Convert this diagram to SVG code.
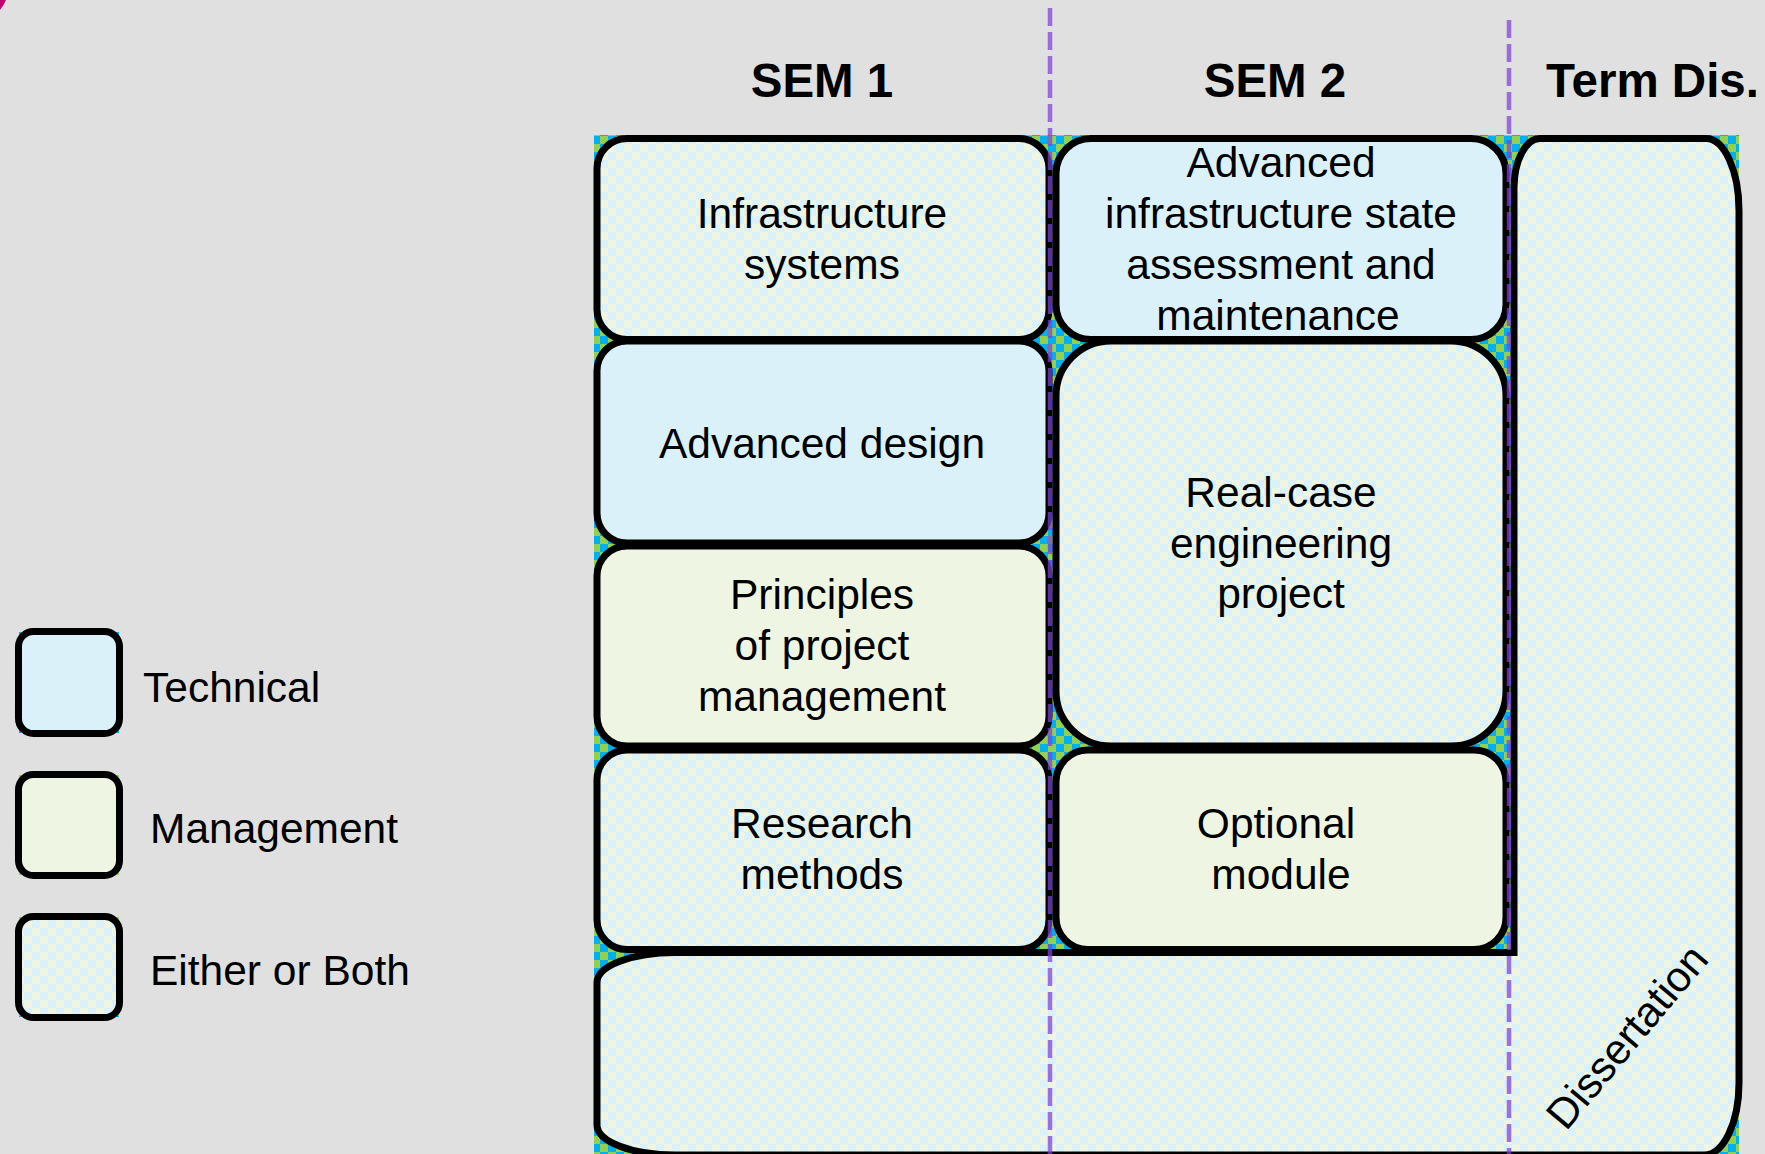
<svg xmlns="http://www.w3.org/2000/svg" width="1765" height="1154" viewBox="0 0 1765 1154">
<defs>
<pattern id="lightChk" patternUnits="userSpaceOnUse" width="16" height="16">
<rect width="16" height="16" fill="#daf1fa"/>
<rect width="8" height="8" fill="#eef6e3"/>
<rect x="8" y="8" width="8" height="8" fill="#eef6e3"/>
</pattern>
<pattern id="brightChk" patternUnits="userSpaceOnUse" width="16" height="16">
<rect width="16" height="16" fill="#00b0f0"/>
<rect width="8" height="8" fill="#92d050"/>
<rect x="8" y="8" width="8" height="8" fill="#92d050"/>
</pattern>
<style>
.box{stroke:#000;stroke-width:7}
.tech{fill:#daf1fa}
.mgmt{fill:#eef6e3}
.both{fill:url(#lightChk)}
.lbl{font-family:"Liberation Sans",Arial,sans-serif;font-size:42.5px;fill:#000;text-anchor:middle}
.leg{font-family:"Liberation Sans",Arial,sans-serif;font-size:42.5px;fill:#000}
.hdr{font-family:"Liberation Sans",Arial,sans-serif;font-size:47.5px;font-weight:bold;fill:#000}
.div{stroke:#7f3fd9;stroke-opacity:0.72;stroke-width:4.5;stroke-dasharray:18 6;fill:none}
</style>
</defs>
<rect width="1765" height="1154" fill="#dfe0df"/>
<path d="M0,0 L6,0 Q4,5 0,10 Z" fill="#c0006a"/>

<g id="headers">
<text class="hdr" x="822" y="97" text-anchor="middle">SEM 1</text>
<text class="hdr" x="1275" y="97" text-anchor="middle">SEM 2</text>
<text class="hdr" x="1546" y="97">Term Dis.</text>
</g>

<rect x="594" y="135" width="1145" height="1019" fill="url(#brightChk)"/>

<g id="dissertation">
<path class="box both" d="M675,952.5 L1514,952.5 L1514,188 A26,50 0 0 1 1540,138.5 L1706,138.5 A33,72 0 0 1 1739,210.5 L1739,1083 A35,72 0 0 1 1704,1155 L675,1155 A78,30 0 0 1 597,1125 L597,982.5 A78,30 0 0 1 675,952.5 Z"/>
<text class="lbl" x="1638" y="1046" transform="rotate(-50 1638 1046)">Dissertation</text>
</g>

<g id="infrastructure-systems">
<rect class="box both" x="597" y="138.5" width="452" height="201" rx="30"/>
<text class="lbl" x="822"><tspan x="822" y="228">Infrastructure</tspan><tspan x="822" y="279">systems</tspan></text>
</g>
<g id="advanced-design">
<rect class="box tech" x="597" y="341" width="452" height="202" rx="30"/>
<text class="lbl" x="822" y="458">Advanced design</text>
</g>
<g id="principles">
<rect class="box mgmt" x="597" y="546" width="452" height="200" rx="30"/>
<text class="lbl" x="822"><tspan x="822" y="609">Principles</tspan><tspan x="822" y="660">of project</tspan><tspan x="822" y="711">management</tspan></text>
</g>
<g id="research-methods">
<rect class="box both" x="597" y="750" width="452" height="199.5" rx="30"/>
<text class="lbl" x="822"><tspan x="822" y="838">Research</tspan><tspan x="822" y="889">methods</tspan></text>
</g>

<g id="advanced-infrastructure">
<rect class="box tech" x="1056" y="138.5" width="450" height="201" rx="35"/>
<text class="lbl" x="1281"><tspan x="1281" y="177">Advanced</tspan><tspan x="1281" y="228">infrastructure state</tspan><tspan x="1281" y="279">assessment and</tspan><tspan x="1278" y="330">maintenance</tspan></text>
</g>
<g id="real-case">
<rect class="box both" x="1056" y="341" width="450" height="405" rx="55"/>
<text class="lbl" x="1281"><tspan x="1281" y="507">Real-case</tspan><tspan x="1281" y="558">engineering</tspan><tspan x="1281" y="608">project</tspan></text>
</g>
<g id="optional-module">
<rect class="box mgmt" x="1056" y="750" width="450" height="199.5" rx="32"/>
<text class="lbl" x="1277"><tspan x="1276" y="838">Optional</tspan><tspan x="1281" y="889">module</tspan></text>
</g>

<g id="legend">
<g id="legend-technical">
<rect x="19" y="632" width="100" height="101" fill="#00b0f0"/>
<rect class="box tech" x="18.5" y="631.5" width="101" height="102" rx="15"/>
<text class="leg" x="143" y="702">Technical</text>
</g>
<g id="legend-management">
<rect x="19" y="775" width="100" height="100" fill="#92d050"/>
<rect class="box mgmt" x="18.5" y="774.5" width="101" height="101" rx="15"/>
<text class="leg" x="150" y="843">Management</text>
</g>
<g id="legend-both">
<rect x="19" y="917" width="100" height="100" fill="url(#brightChk)"/>
<rect class="box both" x="18.5" y="916.5" width="101" height="101" rx="15"/>
<text class="leg" x="150" y="985">Either or Both</text>
</g>
</g>

<g id="connectors">
<line class="div" x1="1050" y1="8" x2="1050" y2="1154"/>
<line class="div" x1="1509" y1="20" x2="1509" y2="1154"/>
</g>
</svg>
